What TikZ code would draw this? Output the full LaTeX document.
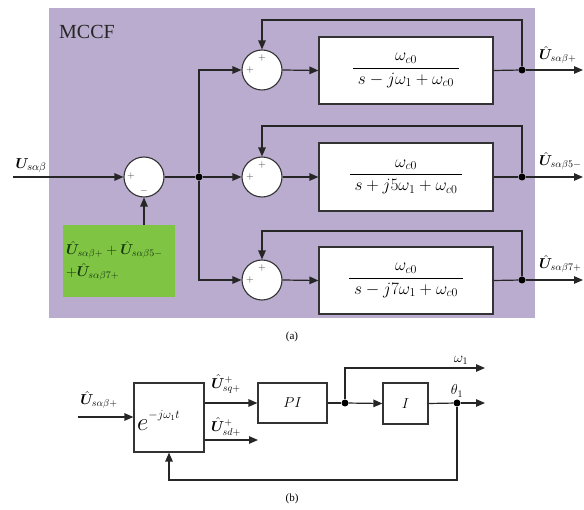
\documentclass[tikz,border=0pt]{standalone}
\usepackage{amsmath}
\usepackage{bm}
\usepackage{fontspec}
\setmainfont{Liberation Serif}
\usetikzlibrary{arrows.meta,calc}
\definecolor{purp}{RGB}{186,172,206}
\definecolor{grn}{RGB}{128,196,68}
\definecolor{dgrn}{RGB}{20,55,15}
\tikzset{
 ln/.style={line width=1.2pt, draw=black!85},
 arr/.style={ln, -{Triangle[length=9pt,width=7.5pt]}},
 sumc/.style={circle, draw=black!80, line width=1.1pt, fill=white, minimum size=40pt, inner sep=0pt},
 blk/.style={draw=black!80, line width=1.2pt, fill=white, inner sep=0pt},
 dotn/.style={circle, fill=black, inner sep=0pt, minimum size=7pt},
 sgn/.style={font=\fontsize{10}{10}\selectfont, inner sep=0pt, text=black!75},
 frac/.style={font=\fontsize{17}{20}\selectfont},
 lab/.style={inner sep=0pt, font=\fontsize{14}{14}\selectfont},
}
\begin{document}
\begin{tikzpicture}[x=1pt,y=-1pt]
\useasboundingbox (0,0) rectangle (584,510);
\fill[purp] (49,8) rectangle (535,318);
\node[anchor=west, inner sep=0pt, font=\fontsize{20}{20}\selectfont, text=black!85] (mccf) at (59,32) {MCCF};

% sums
\node[sumc] (s0) at (144,177) {};
\node[sumc] (s1) at (262,70) {};
\node[sumc] (s2) at (262,177) {};
\node[sumc] (s3) at (262,280) {};
\node[sgn] (s0a) at (131,176) {$+$};
\node[sgn] (s0b) at (144,191) {$-$};
\foreach \i in {1,2,3}{
  \node[sgn] (p\i a) at ($(s\i)+(-12,0)$) {$+$};
  \node[sgn] (p\i b) at ($(s\i)+(0,-12)$) {$+$};
}

% blocks
\node[blk, minimum width=174pt, minimum height=67pt, frac] (b1) at (406,70.5)
  {$\dfrac{\omega_{c0}}{\;s-j\omega_1+\omega_{c0}\;}$};
\node[blk, minimum width=174pt, minimum height=68pt, frac] (b2) at (406,177)
  {$\dfrac{\omega_{c0}}{\;s+j5\omega_1+\omega_{c0}\;}$};
\node[blk, minimum width=174pt, minimum height=67pt, frac] (b3) at (406,280.5)
  {$\dfrac{\omega_{c0}}{\;s-j7\omega_1+\omega_{c0}\;}$};

% green box
\node[fill=grn, minimum width=112pt, minimum height=72pt, inner sep=0pt, text=dgrn,
  font=\fontsize{14}{22}\selectfont, align=left, text width=106pt] (g) at (119,261)
  {$\hat{\bm U}_{s\alpha\beta+}+\hat{\bm U}_{s\alpha\beta5-}$\\$+\hat{\bm U}_{s\alpha\beta7+}$};

% input
\coordinate (in) at (13,177);
\node[lab, anchor=south, font=\fontsize{15}{15}\selectfont] (uin) at (31,173) {$\bm U_{s\alpha\beta}$};
\draw[arr] (in) -- (s0.west);
\draw[arr] (s0.south |- g.north) -- (s0.south);
\node[dotn] (d0) at (199,177) {};
\draw[ln] (s0.east) -- (d0);
\draw[arr] (d0) |- (s1.west);
\draw[arr] (d0) -- (s2.west);
\draw[arr] (d0) |- (s3.west);
\foreach \i in {1,2,3}{ \draw[arr] (s\i.east) -- (b\i.west); }

% outputs
\node[dotn] (o1) at (522,70) {};
\node[dotn] (o2) at (522,177) {};
\node[dotn] (o3) at (522,280) {};
\coordinate (e1) at (583,70);
\coordinate (e2) at (583,177);
\coordinate (e3) at (583,280);
\coordinate (t1) at (522,20);
\coordinate (t2) at (522,126);
\coordinate (t3) at (522,231);
\foreach \i in {1,2,3}{
  \draw[ln] (b\i.east) -- (o\i);
  \draw[arr] (o\i) -- (e\i);
  \draw[arr] (o\i) -- (t\i) -| (s\i.north);
}
\node[lab, anchor=south west] (l1) at (539,64) {$\hat{\bm U}_{s\alpha\beta+}$};
\node[lab, anchor=south west] (l2) at (539,170) {$\hat{\bm U}_{s\alpha\beta5-}$};
\node[lab, anchor=south west] (l3) at (539,273) {$\hat{\bm U}_{s\alpha\beta7+}$};

\node[font=\fontsize{11}{11}\selectfont] (capa) at (292,337) {(a)};

% ---------- (b)
\node[blk, minimum width=70pt, minimum height=69pt] (eb) at (169,417.5) {};
\node[inner sep=0pt, anchor=west] (etxt) at (137,421)
  {\fontsize{34}{34}\selectfont$e$\raisebox{12pt}{\fontsize{12}{12}\selectfont$-j\omega_1 t$}};
\node[blk, minimum width=69pt, minimum height=40pt, font=\fontsize{15}{15}\selectfont] (pi) at (292.5,403) {$PI$};
\node[blk, minimum width=45pt, minimum height=41pt, font=\fontsize{15}{15}\selectfont] (ib) at (405.5,403.5) {$I$};
\node[dotn] (da) at (345,403) {};
\node[dotn] (db) at (457,403) {};
\coordinate (bin) at (78,417);
\coordinate (o2b) at (258,440);
\coordinate (wu) at (345,368);
\coordinate (we) at (485,368);
\coordinate (te) at (485,403);
\coordinate (fb) at (457,480);
\draw[arr] (bin) -- (eb.west |- bin);
\draw[arr] (eb.east |- pi.west) -- (pi.west);
\draw[arr] (eb.east |- o2b) -- (o2b);
\draw[ln] (pi.east) -- (da);
\draw[arr] (da) -- (ib.west);
\draw[arr] (da) -- (wu) -- (we);
\draw[ln] (ib.east) -- (db);
\draw[arr] (db) -- (te);
\draw[arr] (db) -- (fb) -| (eb.south);
\node[lab] (lbin) at (99,400) {$\hat{\bm U}_{s\alpha\beta+}$};
\node[lab] (lq) at (226,384) {$\hat{\bm U}^{+}_{sq+}$};
\node[lab] (ld) at (226,427) {$\hat{\bm U}^{+}_{sd+}$};
\node[lab] (lw) at (461,360) {$\omega_1$};
\node[lab] (lt) at (457,391) {$\theta_1$};
\node[font=\fontsize{11}{11}\selectfont] (capb) at (292,499) {(b)};
\end{tikzpicture}
\end{document}
